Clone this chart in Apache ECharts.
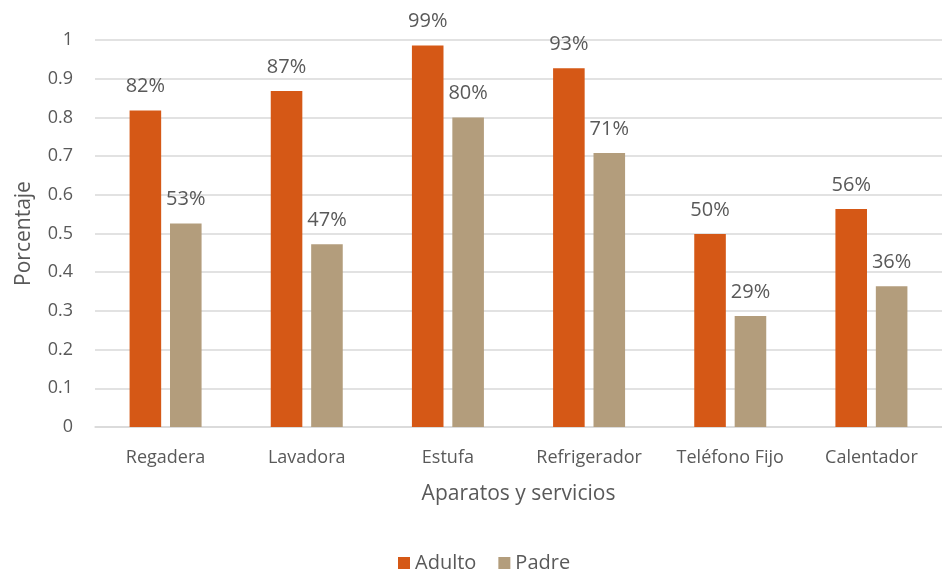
<!DOCTYPE html>
<html>
<head>
<meta charset="utf-8">
<script src="https://cdn.jsdelivr.net/npm/echarts@6/dist/echarts.min.js"></script>
<style>html,body{margin:0;padding:0;background:#fff}#c{width:942px;height:571px}</style>
</head>
<body>
<div id="c"></div>
<script>
const categories = ['Regadera', 'Lavadora', 'Estufa', 'Refrigerador', 'Teléfono Fijo', 'Calentador'];
const adulto = [0.818, 0.868, 0.986, 0.927, 0.499, 0.563];
const padre = [0.526, 0.472, 0.800, 0.708, 0.287, 0.364];
const yTicks = [0, 0.1, 0.2, 0.3, 0.4, 0.5, 0.6, 0.7, 0.8, 0.9, 1];

const font = 'Open Sans';
const txt = '#595959';
const chart = echarts.init(document.getElementById('c'));
const lbl = {
  show: true, position: 'top', distance: 14, color: txt, fontSize: 20, fontFamily: font,
  formatter: p => Math.round(p.value * 100) + '%'
};
chart.setOption({
  animation: false,
  grid: { left: 95, right: -13.5, top: 40, bottom: 144 },
  legend: {
    top: 548, left: 393, padding: 5, itemWidth: 12, itemHeight: 12, itemGap: 22,
    icon: 'rect',
    textStyle: { color: txt, fontSize: 20, fontFamily: font }
  },
  xAxis: {
    type: 'category', data: categories,
    name: 'Aparatos y servicios', nameLocation: 'middle', nameGap: 57,
    nameTextStyle: { color: txt, fontSize: 21, fontFamily: font },
    axisLine: { lineStyle: { color: '#d9d9d9', width: 1.5 } },
    axisTick: { show: false },
    axisLabel: { color: txt, fontSize: 18, fontFamily: font, margin: 22, interval: 0 }
  },
  yAxis: {
    type: 'value', min: 0, max: 1, interval: 0.1,
    name: 'Porcentaje', nameLocation: 'middle', nameGap: 60,
    nameTextStyle: { color: txt, fontSize: 21, fontFamily: font },
    axisLine: { show: false }, axisTick: { show: false },
    axisLabel: { color: txt, fontSize: 18, fontFamily: font, margin: 22,
      formatter: v => { const t = yTicks.find(x => Math.abs(x - v) < 1e-6); return t === undefined ? '' : String(t); } },
    splitLine: { lineStyle: { color: '#d9d9d9', width: 1.5 } }
  },
  series: [
    { name: 'Adulto', type: 'bar', data: adulto, itemStyle: { color: '#D55816' },
      barGap: '28%', barCategoryGap: '49%', label: lbl },
    { name: 'Padre', type: 'bar', data: padre, itemStyle: { color: '#B39D7C' }, label: lbl }
  ]
});
</script>
</body>
</html>
